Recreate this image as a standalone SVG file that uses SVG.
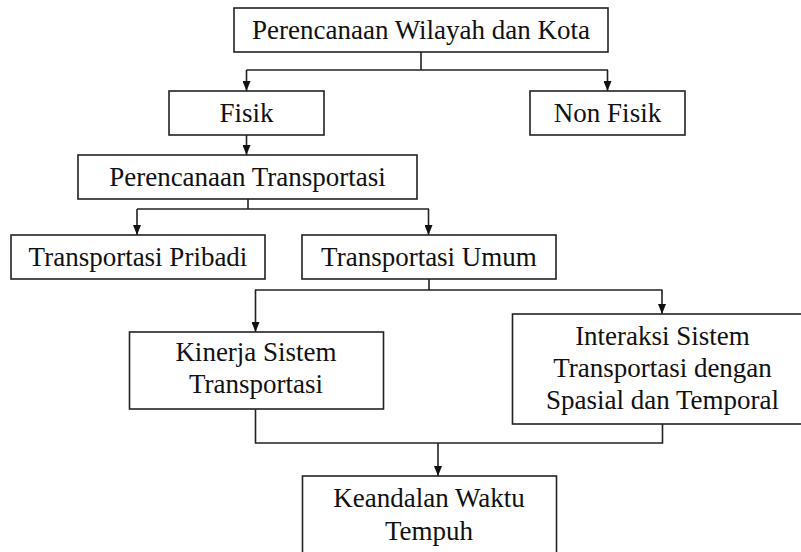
<svg xmlns="http://www.w3.org/2000/svg" width="801" height="552" viewBox="0 0 801 552">
<style>
.box{fill:#fff;stroke:#222;stroke-width:1.6}
.t{font-family:"Liberation Serif","Times New Roman",serif;font-size:27px;fill:#111;text-anchor:middle}
.c{fill:none;stroke:#222;stroke-width:1.6}
</style>
<defs>
<marker id="ah" markerUnits="userSpaceOnUse" markerWidth="10" markerHeight="8" refX="10" refY="4" orient="auto" viewBox="0 0 10 8">
<path d="M0,0 L10,4 L0,8 z" fill="#111"/>
</marker>
</defs>
<rect width="801" height="552" fill="#fff"/>
<g id="connectors">
<path class="c" d="M421,52 V70"/>
<path class="c" d="M246.5,70 H608"/>
<path class="c" d="M246.5,70 V91" marker-end="url(#ah)"/>
<path class="c" d="M607.5,70 V91" marker-end="url(#ah)"/>
<path class="c" d="M246.5,135 V155" marker-end="url(#ah)"/>
<path class="c" d="M248,199 V209"/>
<path class="c" d="M137,209 H429"/>
<path class="c" d="M137,209 V235" marker-end="url(#ah)"/>
<path class="c" d="M428.5,209 V235" marker-end="url(#ah)"/>
<path class="c" d="M429,279 V290"/>
<path class="c" d="M255,290 H662.5"/>
<path class="c" d="M255.5,290 V332" marker-end="url(#ah)"/>
<path class="c" d="M662,290 V314" marker-end="url(#ah)"/>
<path class="c" d="M255.5,409 V443 H662.5 V424"/>
<path class="c" d="M438,443 V476" marker-end="url(#ah)"/>
</g>
<g id="n1"><rect class="box" x="234" y="8" width="374" height="44"/><text class="t" x="421" y="39">Perencanaan Wilayah dan Kota</text></g>
<g id="n2"><rect class="box" x="169" y="91" width="155" height="44"/><text class="t" x="246.5" y="122">Fisik</text></g>
<g id="n3"><rect class="box" x="530" y="91" width="155" height="44"/><text class="t" x="607.5" y="122">Non Fisik</text></g>
<g id="n4"><rect class="box" x="78" y="155" width="339" height="44"/><text class="t" x="247.5" y="186">Perencanaan Transportasi</text></g>
<g id="n5"><rect class="box" x="11" y="235" width="254" height="44"/><text class="t" x="138" y="266">Transportasi Pribadi</text></g>
<g id="n6"><rect class="box" x="302" y="235" width="254" height="44"/><text class="t" x="429" y="266">Transportasi Umum</text></g>
<g id="n7"><rect class="box" x="129.5" y="332" width="254" height="77"/><text class="t" x="256" y="361">Kinerja Sistem</text><text class="t" x="256" y="393">Transportasi</text></g>
<g id="n8"><rect class="box" x="512.5" y="314" width="300" height="110"/><text class="t" x="662.5" y="345">Interaksi Sistem</text><text class="t" x="662.5" y="377">Transportasi dengan</text><text class="t" x="662.5" y="408.5">Spasial dan Temporal</text></g>
<g id="n9"><rect class="box" x="302.5" y="476" width="254" height="90"/><text class="t" x="429" y="507">Keandalan Waktu</text><text class="t" x="429" y="540">Tempuh</text></g>
</svg>
